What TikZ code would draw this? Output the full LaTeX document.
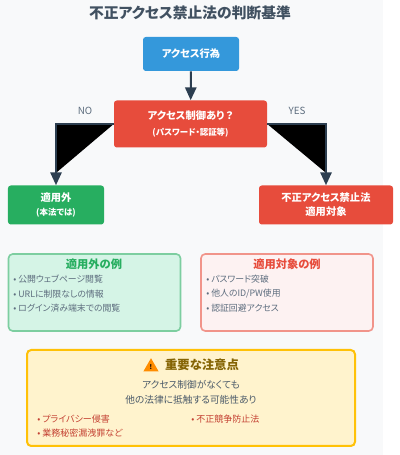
\documentclass[tikz,border=0pt]{standalone}
\usepackage{fontspec}
\setmainfont{Noto Sans CJK JP}[RawFeature=+palt]
\usetikzlibrary{shapes.geometric,arrows.meta,positioning}
\definecolor{pagebg}{HTML}{F8F9FA}
\definecolor{inkdark}{HTML}{2C3E50}
\definecolor{inkgray}{HTML}{5D6D7E}
\definecolor{accblue}{HTML}{3498DB}
\definecolor{accred}{HTML}{E74C3C}
\definecolor{accgreen}{HTML}{27AE60}
\definecolor{greenfill}{HTML}{D5F4E6}
\definecolor{greenline}{HTML}{7DCEA0}
\definecolor{redfill}{HTML}{FDF2F2}
\definecolor{redline}{HTML}{F1948A}
\definecolor{noteamber}{HTML}{FFC107}
\definecolor{notefill}{HTML}{FFF3CD}
\definecolor{notetext}{HTML}{856404}
\newcommand{\fsz}[1]{\fontsize{#1}{10pt}\selectfont}
\tikzset{
  flowbox/.style ={rectangle,rounded corners=2pt,text=white,align=center,
                   font=\fsz{7.3}\bfseries,inner sep=0pt},
  examplebox/.style={rectangle,rounded corners=3pt,line width=0.04cm,
                   minimum width=4.3cm,minimum height=1.925cm},
  itemtext/.style={anchor=west,inner sep=0pt,font=\fsz{6.3},text=inkgray},
  notetxt/.style ={anchor=west,inner sep=0pt,font=\fsz{6.4},text=accred!85!black},
  arr/.style     ={-{Triangle[length=3.2mm,width=2.8mm]},draw=inkdark,line width=0.05cm}
}
\begin{document}
\begin{tikzpicture}
  \useasboundingbox (0, 0) rectangle (10, 11.375);
  % Background
  \fill[pagebg] (0, 0) rectangle (9.575, 11.375);
  \node (title) at (4.75, 11.05) [font=\fsz{10.5}\bfseries, text=inkdark!90, inner sep=0pt] {不正アクセス禁止法の判断基準};

  % Flow boxes
  \node (access) at (4.775, 10.025) [flowbox, fill=accblue, minimum width=2.4cm, minimum height=0.85cm] {アクセス行為};
  \node (decide) at (4.7625, 8.275) [flowbox, fill=accred, minimum width=3.825cm, minimum height=1.175cm]
    {アクセス制御あり\,？\\[1pt]{\fsz{6}(パスワード・認証等)}};
  \node (notapp) at (1.4, 6.25) [flowbox, fill=accgreen, minimum width=2.4cm, minimum height=0.975cm]
    {適用外\\{\fsz{6}(本法では)}};
  \node (app) at (8.15, 6.25) [flowbox, fill=accred, minimum width=3.35cm, minimum height=0.975cm]
    {不正アクセス禁止法\\適用対象};

  % Connectors
  \draw[arr] (access) -- (decide);
  \draw[arr, fill=black] (decide.west) -| (notapp.north);
  \draw[arr, fill=black] (decide.east) -| (app.north);
  \node (nolabel) at (2.125, 8.6) [font=\fsz{7}, text=inkgray] {NO};
  \node (yeslabel) at (7.425, 8.6) [font=\fsz{7}, text=inkgray] {YES};

  % Examples, not covered
  \node (exno) at (2.3625, 4.0625) [examplebox, draw=greenline, fill=greenfill] {};
  \node (exnohead) at (2.35, 4.775) [font=\fsz{8}\bfseries, text=accgreen, inner sep=0pt] {適用外の例};
  \node (exno1) at (0.325, 4.4) [itemtext] {• 公開ウェブページ閲覧};
  \node (exno2) at (0.325, 4.025) [itemtext] {• URLに制限なしの情報};
  \node (exno3) at (0.325, 3.675) [itemtext] {• ログイン済み端末での閲覧};

  % Examples, covered
  \node (exyes) at (7.175, 4.0625) [examplebox, draw=redline, fill=redfill] {};
  \node (exyeshead) at (7.175, 4.775) [font=\fsz{8}\bfseries, text=accred, inner sep=0pt] {適用対象の例};
  \node (exyes1) at (5.15, 4.4) [itemtext] {• パスワード突破};
  \node (exyes2) at (5.15, 4.025) [itemtext] {• 他人のID/PW使用};
  \node (exyes3) at (5.15, 3.675) [itemtext] {• 認証回避アクセス};

  % Note
  \node (note) at (4.775, 1.425) [rectangle, rounded corners=3pt, line width=0.05cm, draw=noteamber,
    fill=notefill, minimum width=8.2cm, minimum height=2.4cm] {};
  \node (warnicon) at (3.775, 2.2) [regular polygon, regular polygon sides=3, fill=orange!90!yellow, inner sep=0pt,
    minimum size=0.44cm, font=\fsz{4.5}\bfseries, text=black] {!};
  \node (notehead) at (5.05, 2.25) [font=\fsz{8.8}\bfseries, text=notetext, inner sep=0pt] {重要な注意点};
  \node (notebody) at (4.775, 1.56) [font=\fsz{6.9}, text=inkdark!85, align=center, inner sep=0pt]
    {アクセス制御がなくても\\[0.7pt]他の法律に抵触する可能性あり};
  \node (note1) at (0.925, 0.9) [notetxt] {• プライバシー侵害};
  \node (note2) at (4.775, 0.9) [notetxt] {• 不正競争防止法};
  \node (note3) at (0.925, 0.55) [notetxt] {• 業務秘密漏洩罪など};
\end{tikzpicture}
\end{document}
